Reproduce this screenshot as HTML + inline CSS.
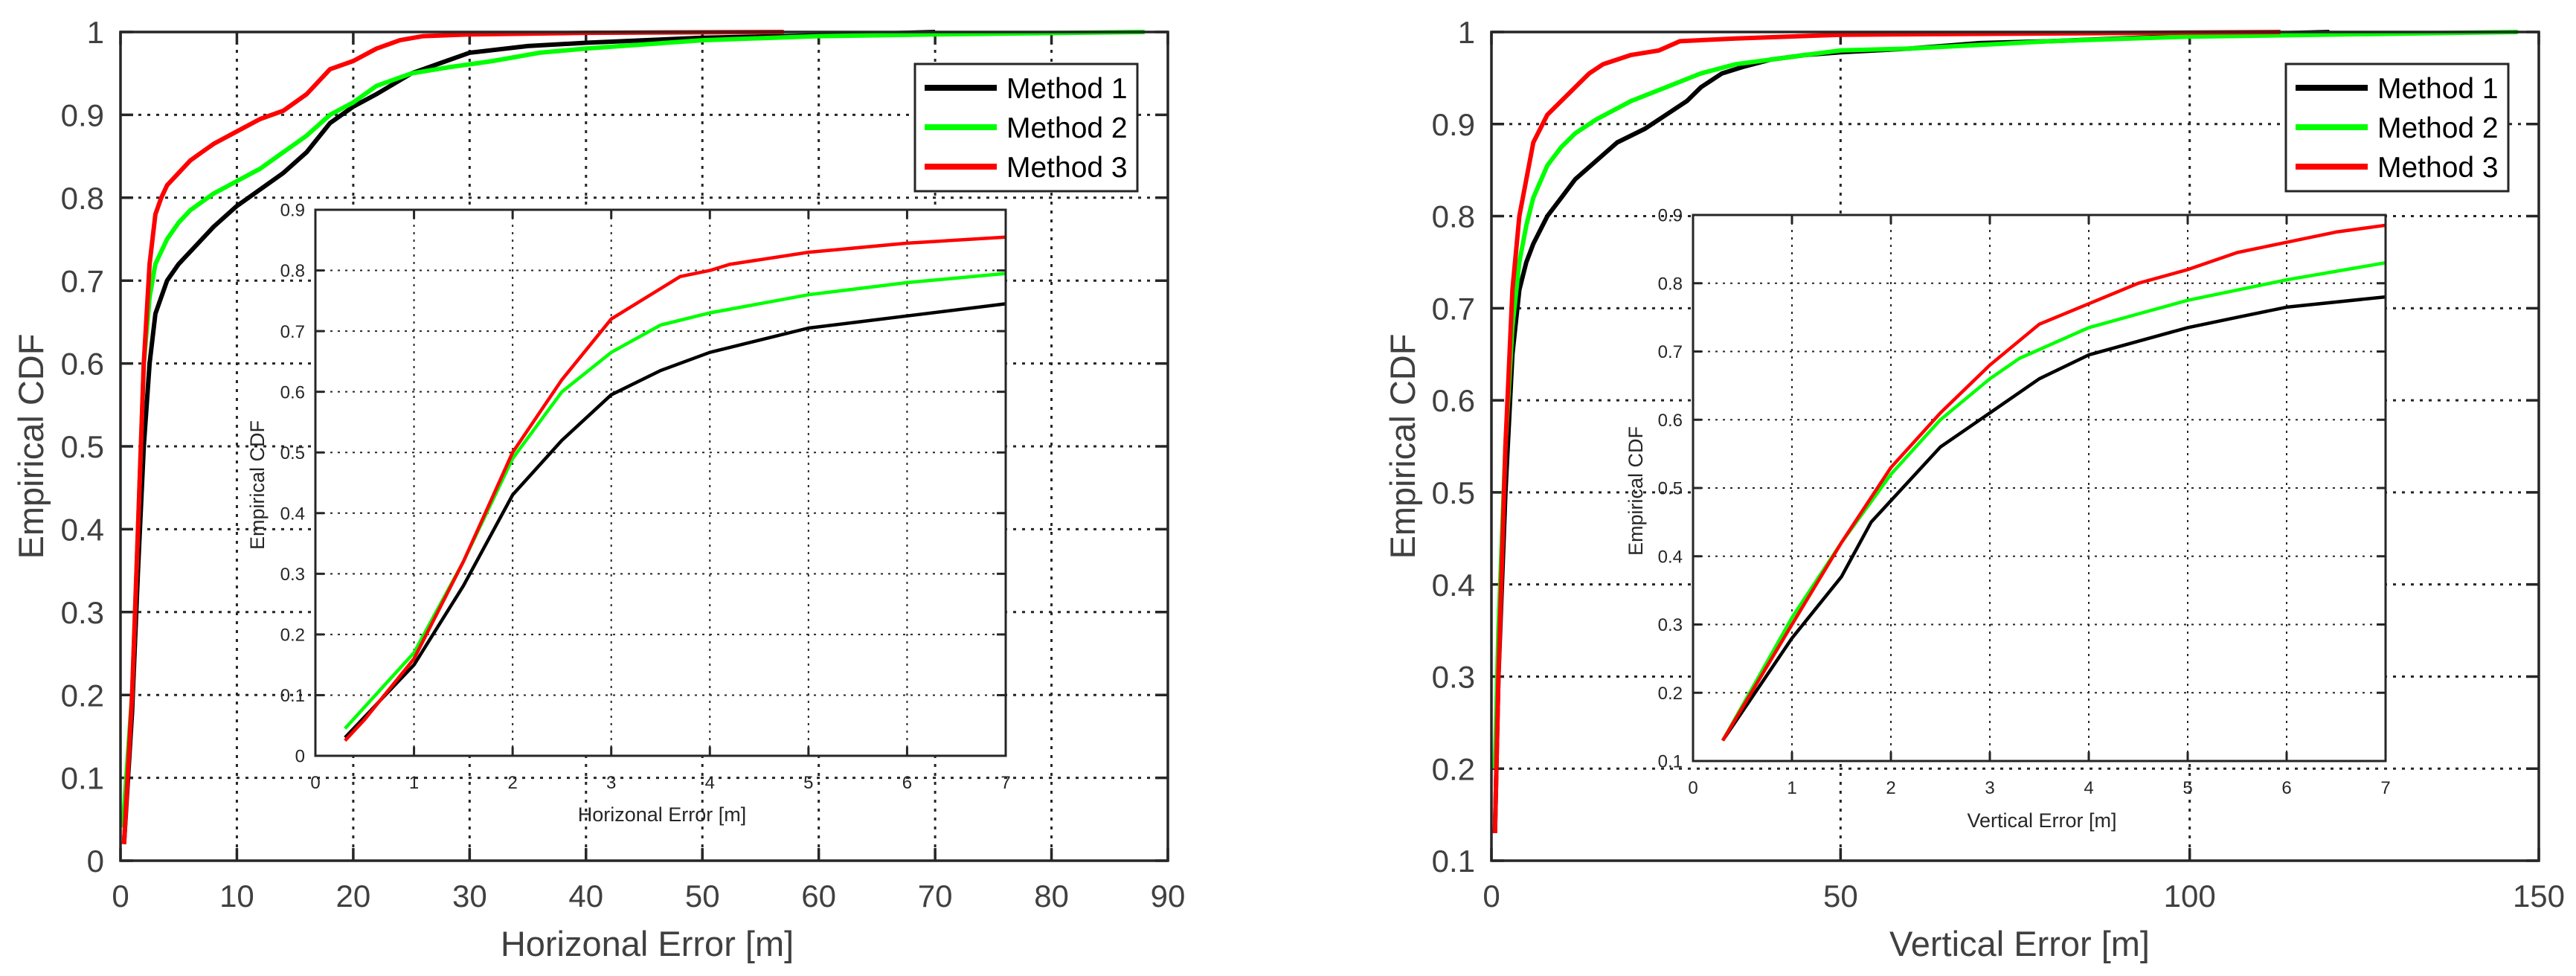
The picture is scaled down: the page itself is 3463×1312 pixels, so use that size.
<!DOCTYPE html>
<html><head><meta charset="utf-8"><style>
html,body{margin:0;padding:0;background:#fff;}
svg{display:block;font-family:"Liberation Sans",Arial,sans-serif;}
</style></head><body>
<svg id="fig" width="3463" height="1312" viewBox="0 0 3463 1312" xmlns="http://www.w3.org/2000/svg"></svg>
<script>
// ---- data ----
const hM3x=[0.3,1,1.5,2,2.5,3,3.5,4,5,6,7,8,10,12,14,16,18,20,22,24,26,30,40,57];
const hM3y=[0.02,0.2,0.4,0.6,0.72,0.78,0.8,0.815,0.83,0.845,0.855,0.865,0.88,0.895,0.905,0.925,0.955,0.965,0.98,0.99,0.995,0.997,0.999,1];
const hM2x=[0.2,1,1.5,2,2.5,3,4,5,6,8,10,12,14,16,18,20,22,25,28,32,36,40,50,60,70,88];
const hM2y=[0.04,0.2,0.4,0.6,0.68,0.72,0.75,0.77,0.785,0.805,0.82,0.835,0.855,0.875,0.9,0.915,0.935,0.95,0.957,0.965,0.975,0.98,0.99,0.995,0.997,1];
const hM1x=[0.3,1,1.5,2,2.5,3,4,5,6,8,10,12,14,16,18,20,22,25,28,30,35,40,45,50,60,70];
const hM1y=[0.02,0.18,0.35,0.5,0.6,0.66,0.7,0.72,0.735,0.765,0.79,0.81,0.83,0.855,0.89,0.91,0.925,0.95,0.965,0.975,0.983,0.987,0.99,0.993,0.996,1];
const hiM3x=[0.3,0.5,1,1.5,2,2.5,3,3.5,3.7,4,4.2,5,6,7];
const hiM3y=[0.025,0.06,0.16,0.32,0.5,0.62,0.72,0.77,0.79,0.8,0.81,0.83,0.845,0.855];
const hiM2x=[0.3,1,1.5,2,2.5,3,3.5,4,5,6,7];
const hiM2y=[0.045,0.17,0.32,0.49,0.6,0.665,0.71,0.73,0.76,0.78,0.795];
const hiM1x=[0.3,1,1.5,2,2.5,3,3.5,4,4.5,5,5.5,6,7];
const hiM1y=[0.03,0.15,0.28,0.43,0.52,0.595,0.635,0.665,0.685,0.705,0.715,0.725,0.745];
const vM3x=[0.5,1,2,3,4,5,6,8,10,12,14,16,20,24,27,35,50,113];
const vM3y=[0.13,0.3,0.55,0.72,0.8,0.84,0.88,0.91,0.925,0.94,0.955,0.965,0.975,0.98,0.99,0.993,0.997,1];
const vM2x=[0.5,1,2,3,4,5,6,8,10,12,15,20,25,30,35,40,45,50,60,80,100,147];
const vM2y=[0.2,0.35,0.55,0.68,0.75,0.79,0.82,0.855,0.875,0.89,0.905,0.925,0.94,0.955,0.965,0.97,0.975,0.98,0.982,0.99,0.995,1];
const vM1x=[0.5,1,2,3,4,5,6,8,10,12,15,18,22,25,28,30,33,36,40,45,50,60,70,80,100,120];
const vM1y=[0.13,0.3,0.5,0.65,0.72,0.75,0.77,0.8,0.82,0.84,0.86,0.88,0.895,0.91,0.925,0.94,0.955,0.962,0.97,0.975,0.978,0.982,0.988,0.99,0.996,1];
const viM3x=[0.3,1,1.5,2,2.5,3,3.5,4,4.5,5,5.5,6,6.5,7];
const viM3y=[0.13,0.3,0.42,0.53,0.61,0.68,0.74,0.77,0.8,0.82,0.845,0.86,0.875,0.885];
const viM2x=[0.3,1,1.5,2,2.5,3,3.3,4,4.5,5,6,7];
const viM2y=[0.13,0.31,0.42,0.52,0.6,0.66,0.69,0.735,0.755,0.775,0.805,0.83];
const viM1x=[0.3,1,1.5,1.8,2.5,3,3.5,4,5,5.5,6,7];
const viM1y=[0.13,0.28,0.37,0.45,0.56,0.61,0.66,0.695,0.735,0.75,0.765,0.78];
const hXTicks=[0,10,20,30,40,50,60,70,80,90];
const mainYTicks=[0,0.1,0.2,0.3,0.4,0.5,0.6,0.7,0.8,0.9,1];
const vXTicks=[0,50,100,150];
const vYTicks=[0.1,0.2,0.3,0.4,0.5,0.6,0.7,0.8,0.9,1];
const inXTicks=[0,1,2,3,4,5,6,7];
const hiYTicks=[0,0.1,0.2,0.3,0.4,0.5,0.6,0.7,0.8,0.9];
const viYTicks=[0.1,0.2,0.3,0.4,0.5,0.6,0.7,0.8,0.9];
const legendNames=["Method 1","Method 2","Method 3"];
const colors=["#000000","#00ff00","#ff0000"];

const NS="http://www.w3.org/2000/svg";
const svg=document.getElementById('fig');
function mk(tag,attrs,parent){const e=document.createElementNS(NS,tag);for(const k in attrs)e.setAttribute(k,attrs[k]);(parent||svg).appendChild(e);return e;}
function fmt(v){return (Math.round(v*10)/10).toString();}

function axes(o){
  const g=mk('g',{});
  
  
  const sx=v=>o.x0+(v-o.xmin)/(o.xmax-o.xmin)*(o.x1-o.x0);
  const sy=v=>o.y1-(v-o.ymin)/(o.ymax-o.ymin)*(o.y1-o.y0);
  const bg=mk('rect',{x:o.x0,y:o.y0,width:o.x1-o.x0,height:o.y1-o.y0,fill:'#fff'},g);
  
  
  const grid=mk('g',{stroke:'#262626','stroke-width':o.gw,'stroke-dasharray':o.dash,fill:'none'},g);
  
  
  o.xt.forEach(v=>{const X=sx(v);if(X>o.x0+2&&X<o.x1-2)mk('line',{x1:X,y1:o.y0,x2:X,y2:o.y1},grid);});
  o.yt.forEach(v=>{const Y=sy(v);if(Y>o.y0+2&&Y<o.y1-2)mk('line',{x1:o.x0,y1:Y,x2:o.x1,y2:Y},grid);});
  const tk=mk('g',{stroke:'#262626','stroke-width':o.aw},g);
  
  
  o.xt.forEach(v=>{const X=sx(v);mk('line',{x1:X,y1:o.y1,x2:X,y2:o.y1-o.tl},tk);mk('line',{x1:X,y1:o.y0,x2:X,y2:o.y0+o.tl},tk);});
  o.yt.forEach(v=>{const Y=sy(v);mk('line',{x1:o.x0,y1:Y,x2:o.x0+o.tl,y2:Y},tk);mk('line',{x1:o.x1,y1:Y,x2:o.x1-o.tl,y2:Y},tk);});
  o.series.forEach((s,i)=>{
    const d=s[0].map((x,j)=>(j?'L':'M')+sx(x).toFixed(1)+' '+sy(s[1][j]).toFixed(1)).join(' ');
    const p=mk('path',{d:d,fill:'none',stroke:colors[i],'stroke-width':o.lw,'stroke-linejoin':'round'},g);
    
    
  });
  const fr=mk('rect',{x:o.x0,y:o.y0,width:o.x1-o.x0,height:o.y1-o.y0,fill:'none',stroke:'#262626','stroke-width':o.aw},g);
  
  
  const xl=mk('g',{'font-size':o.tf,fill:o.tc,'text-anchor':'middle'},g);
  
  
  o.xt.forEach(v=>{const t=mk('text',{x:sx(v),y:o.y1+o.xlo},xl);t.textContent=fmt(v);});
  const yl=mk('g',{'font-size':o.tf,fill:o.tc,'text-anchor':'end'},g);
  
  
  o.yt.forEach(v=>{const t=mk('text',{x:o.x0-o.ylo,y:sy(v)+o.tf*0.36},yl);t.textContent=fmt(v);});
  const xt=mk('text',{x:o.xlx,y:o.xly,'font-size':o.lf,fill:o.tc,'text-anchor':'middle'},g);
  
  
  xt.textContent=o.xlabel;
  const yt=mk('text',{x:0,y:0,'font-size':o.lf,fill:o.tc,'text-anchor':'middle',transform:`translate(${o.ylx},${o.yly}) rotate(-90)`},g);
  
  
  yt.textContent='Empirical CDF';
  return g;
}
function legend(x0,y0,name){
  const g=mk('g',{});
  
  
  mk('rect',{x:x0,y:y0,width:299,height:171,fill:'#fff',stroke:'#262626','stroke-width':3},g);
  legendNames.forEach((n,i)=>{
    const Y=y0+32+i*53;
    const e=mk('g',{},g);
    
    
    mk('line',{x1:x0+13,y1:Y,x2:x0+110,y2:Y,stroke:colors[i],'stroke-width':8},e);
    const t=mk('text',{x:x0+123,y:Y+14,'font-size':39,fill:'#000'},e);
    t.textContent=n;
  });
}
const mainStyle={gw:3,dash:'4 8',aw:3.5,tl:17,lw:6,tf:42,tc:'#404040',lf:47,xlo:62};
const inStyle={gw:2,dash:'3 7',aw:3,tl:12,lw:4.5,tf:24,tc:'#262626',lf:27,xlo:44};
// Left main
axes(Object.assign({},mainStyle,{name:'horizontal-main-chart',x0:162,x1:1570,y0:43,y1:1157,xmin:0,xmax:90,ymin:0,ymax:1,xt:hXTicks,yt:mainYTicks,ylo:22,
  series:[[hM1x,hM1y],[hM2x,hM2y],[hM3x,hM3y]],xlabel:'Horizonal Error [m]',xlx:870,xly:1285,ylx:58,yly:600}));
legend(1230,86,'horizontal-legend');
axes(Object.assign({},inStyle,{name:'horizontal-inset-chart',x0:424,x1:1352,y0:282,y1:1016,xmin:0,xmax:7,ymin:0,ymax:0.9,xt:inXTicks,yt:hiYTicks,ylo:14,
  series:[[hiM1x,hiM1y],[hiM2x,hiM2y],[hiM3x,hiM3y]],xlabel:'Horizonal Error [m]',xlx:890,xly:1104,ylx:355,yly:652}));
// Right main
axes(Object.assign({},mainStyle,{name:'vertical-main-chart',x0:2005,x1:3413,y0:43,y1:1157,xmin:0,xmax:150,ymin:0.1,ymax:1,xt:vXTicks,yt:vYTicks,ylo:22,
  series:[[vM1x,vM1y],[vM2x,vM2y],[vM3x,vM3y]],xlabel:'Vertical Error [m]',xlx:2715,xly:1285,ylx:1902,yly:600}));
legend(3073,86,'vertical-legend');
axes(Object.assign({},inStyle,{name:'vertical-inset-chart',x0:2276,x1:3207,y0:289,y1:1023,xmin:0,xmax:7,ymin:0.1,ymax:0.9,xt:inXTicks,yt:viYTicks,ylo:14,
  series:[[viM1x,viM1y],[viM2x,viM2y],[viM3x,viM3y]],xlabel:'Vertical Error [m]',xlx:2745,xly:1112,ylx:2208,yly:660}));
</script>
</body></html>
